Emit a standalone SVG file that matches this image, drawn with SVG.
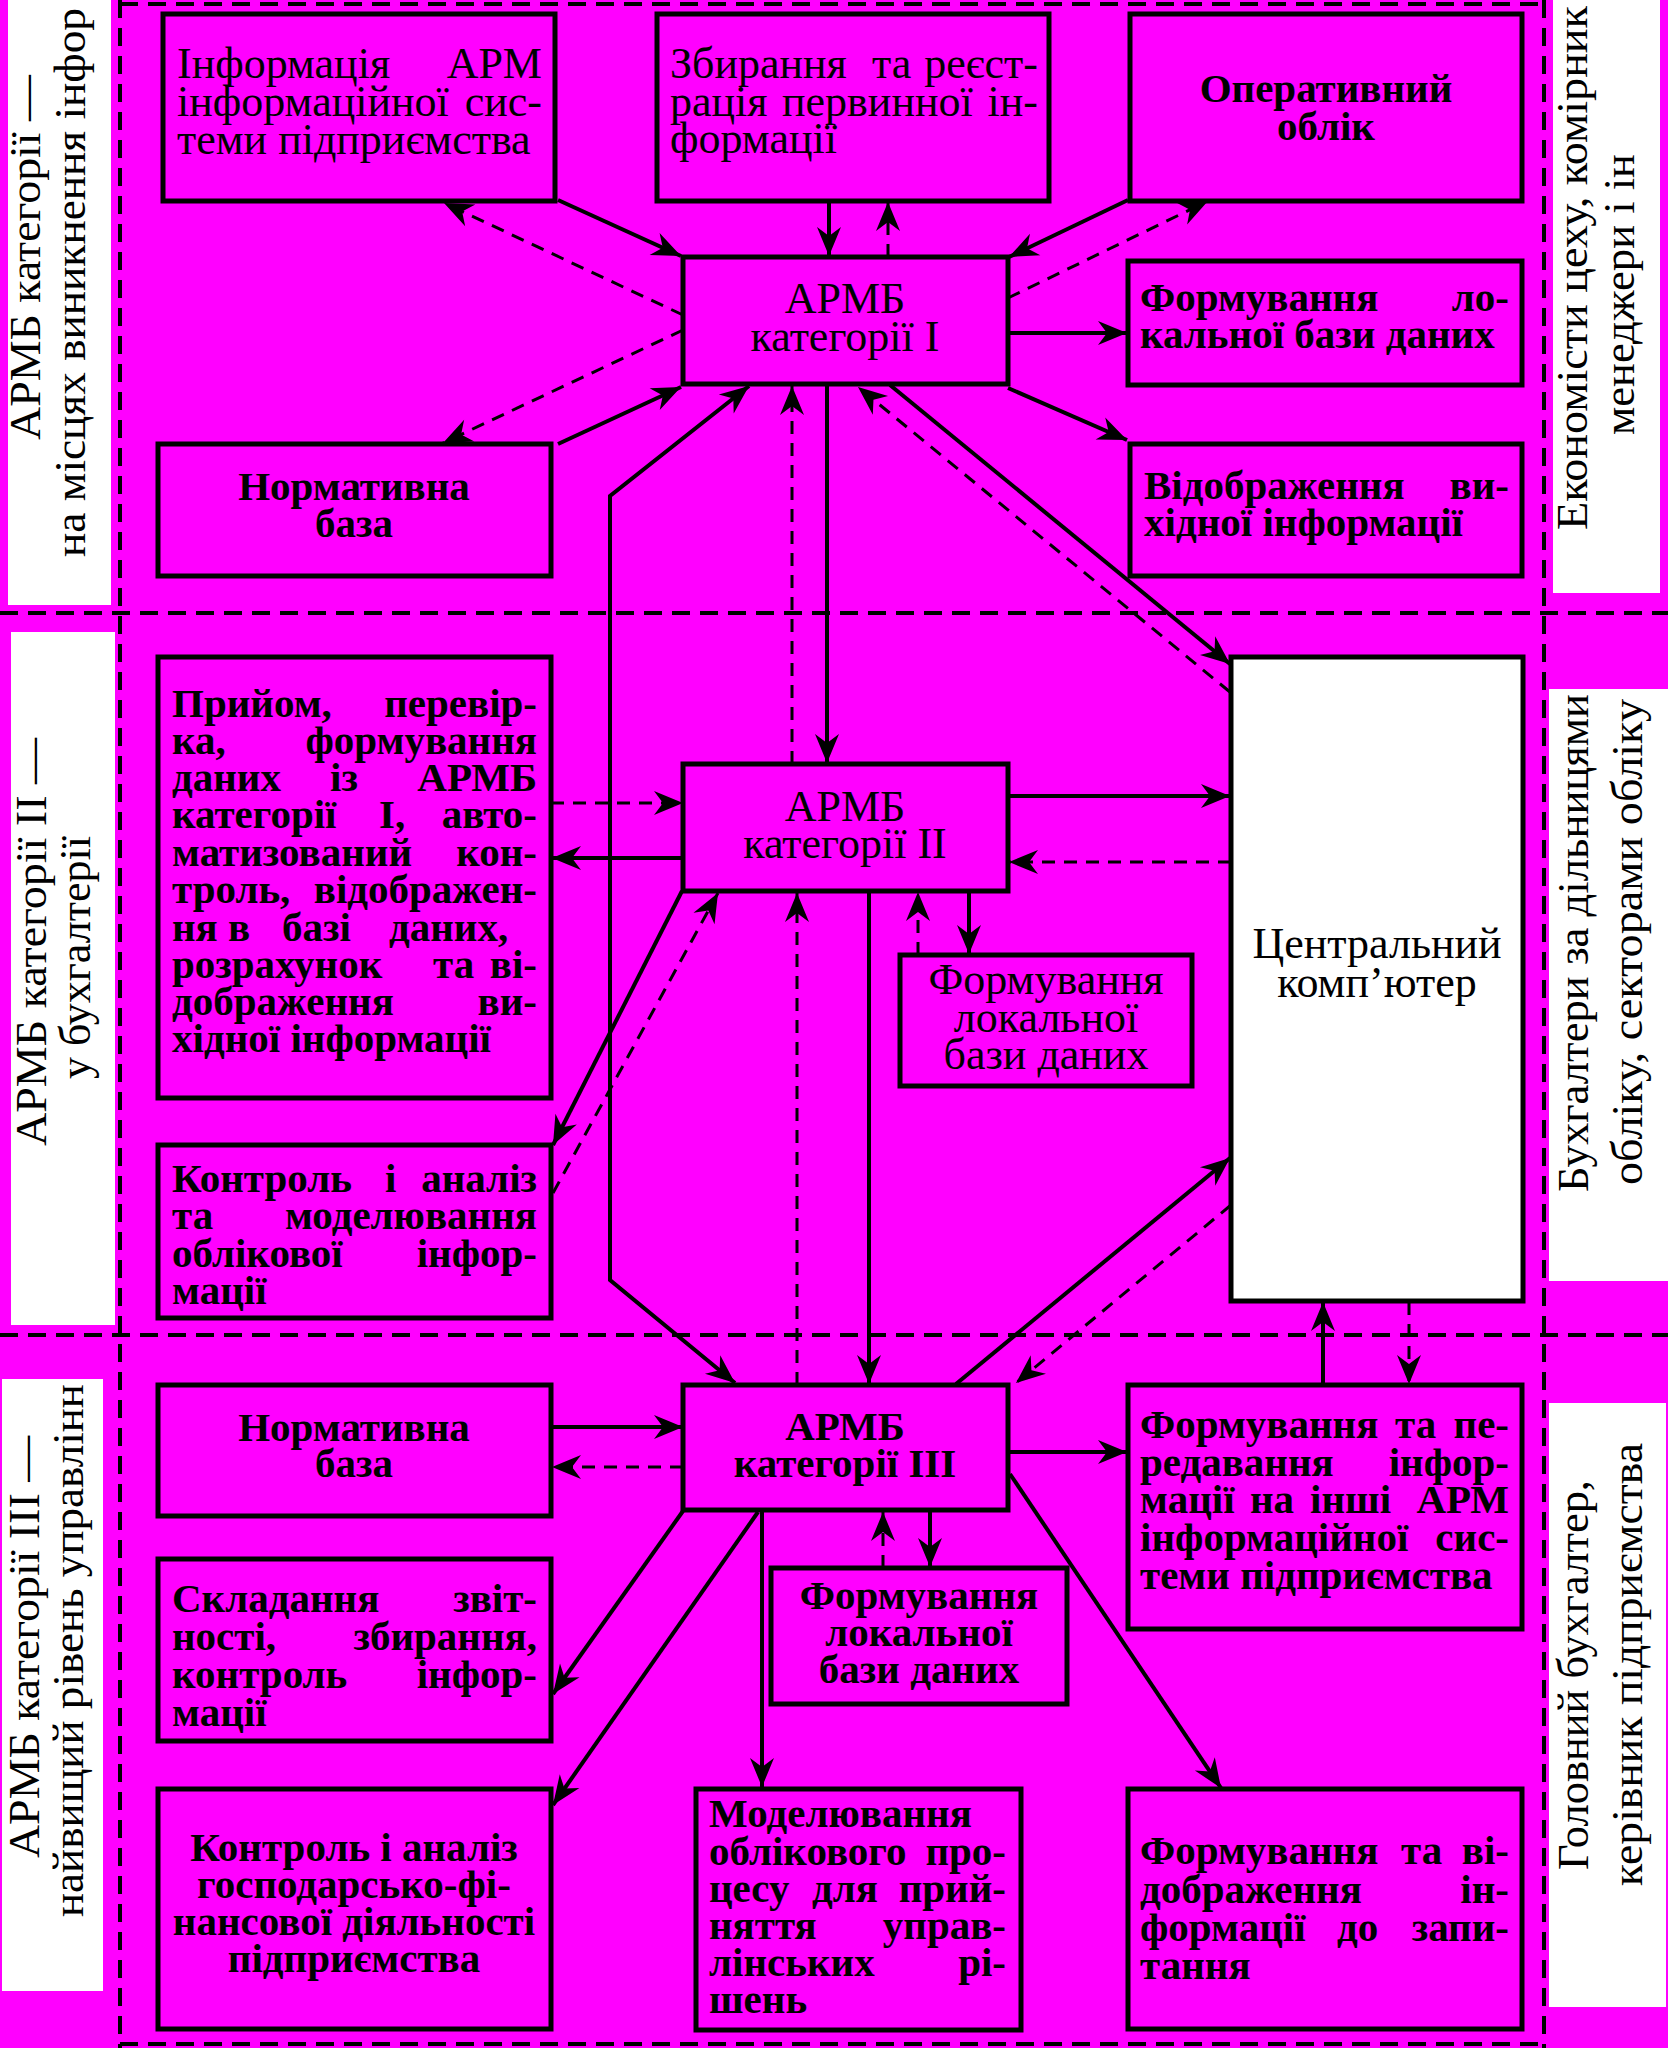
<svg xmlns="http://www.w3.org/2000/svg" width="1668" height="2048" viewBox="0 0 1668 2048">
<defs>
<style>
.box{fill:#FF00FF;stroke:#000;stroke-width:5}
.wbox{fill:#FFFFFF;stroke:#000;stroke-width:5}
.band{fill:#FFFFFF}
.div{stroke:#000;stroke-width:4;stroke-dasharray:18 10;fill:none}
.s{stroke:#000;stroke-width:4;fill:none;marker-end:url(#ah)}
.d{stroke:#000;stroke-width:3;fill:none;stroke-dasharray:13 9;marker-end:url(#ah)}
.sb{stroke:#000;stroke-width:4;fill:none;marker-end:url(#ah);marker-start:url(#ahs)}
text{font-family:"Liberation Serif","Times New Roman",serif;fill:#000}
.b{font-size:41px;font-weight:bold}
.n{font-size:44px;font-weight:normal}
.lab{font-size:45px}
.c{text-anchor:middle}
</style>
<marker id="ah" markerUnits="userSpaceOnUse" markerWidth="32" markerHeight="28" refX="29" refY="13" orient="auto" overflow="visible"><path d="M29,13 L0,1 L9,13 L0,25 Z" fill="#000"/></marker>
<marker id="ahs" markerUnits="userSpaceOnUse" markerWidth="32" markerHeight="28" refX="29" refY="13" orient="auto-start-reverse" overflow="visible"><path d="M29,13 L0,1 L9,13 L0,25 Z" fill="#000"/></marker>
</defs>

<rect x="0" y="0" width="1668" height="2048" fill="#FF00FF"/>

<g id="labels">
<rect class="band" x="8" y="0" width="103" height="605"/>
<rect class="band" x="11" y="632" width="104" height="693"/>
<rect class="band" x="2" y="1379" width="101" height="612"/>
<rect class="band" x="1553" y="0" width="107" height="593"/>
<rect class="band" x="1549" y="689" width="119" height="592"/>
<rect class="band" x="1549" y="1403" width="117" height="604"/>
<text class="lab" transform="translate(40,440) rotate(-90)" textLength="365" lengthAdjust="spacingAndGlyphs">АРМБ категорії —</text>
<text class="lab" transform="translate(85,557) rotate(-90)" textLength="549" lengthAdjust="spacingAndGlyphs">на місцях виникнення інфор</text>
<text class="lab" transform="translate(46,1146) rotate(-90)" textLength="408" lengthAdjust="spacingAndGlyphs">АРМБ категорії ІІ —</text>
<text class="lab" transform="translate(90,1079) rotate(-90)" textLength="243" lengthAdjust="spacingAndGlyphs">у бухгалтерії</text>
<text class="lab" transform="translate(39,1858) rotate(-90)" textLength="422" lengthAdjust="spacingAndGlyphs">АРМБ категорії ІІІ —</text>
<text class="lab" transform="translate(83,1917) rotate(-90)" textLength="533" lengthAdjust="spacingAndGlyphs">найвищий рівень управлінн</text>
<text class="lab" transform="translate(1587,530) rotate(-90)" textLength="524" lengthAdjust="spacingAndGlyphs">Економісти цеху, комірник</text>
<text class="lab" transform="translate(1634,435) rotate(-90)" textLength="281" lengthAdjust="spacingAndGlyphs">менеджери і ін</text>
<text class="lab" transform="translate(1588,1192) rotate(-90)" textLength="498" lengthAdjust="spacingAndGlyphs">Бухгалтери за дільницями</text>
<text class="lab" transform="translate(1642,1185) rotate(-90)" textLength="486" lengthAdjust="spacingAndGlyphs">обліку, секторами обліку</text>
<text class="lab" transform="translate(1588,1870) rotate(-90)" textLength="390" lengthAdjust="spacingAndGlyphs">Головний бухгалтер,</text>
<text class="lab" transform="translate(1642,1886) rotate(-90)" textLength="443" lengthAdjust="spacingAndGlyphs">керівник підприємства</text>
</g>

<g id="dividers">
<line class="div" x1="120" y1="0" x2="120" y2="2048"/>
<line class="div" x1="1544" y1="0" x2="1544" y2="2048"/>
<line class="div" x1="120" y1="4" x2="1544" y2="4"/>
<line class="div" x1="0" y1="613" x2="1668" y2="613"/>
<line class="div" x1="0" y1="1335" x2="1668" y2="1335"/>
<line class="div" x1="120" y1="2044" x2="1544" y2="2044"/>
</g>

<g id="connectors">
<line class="s" x1="558" y1="200" x2="681" y2="256"/>
<line class="d" x1="683" y1="315" x2="444" y2="203"/>
<line class="d" x1="683" y1="330" x2="443" y2="443"/>
<line class="s" x1="558" y1="444" x2="681" y2="387"/>
<line class="s" x1="829" y1="201" x2="829" y2="256"/>
<line class="d" x1="888" y1="257" x2="888" y2="202"/>
<line class="s" x1="1128" y1="200" x2="1009" y2="257"/>
<line class="d" x1="1008" y1="298" x2="1208" y2="201"/>
<line class="s" x1="1008" y1="333" x2="1127" y2="333"/>
<line class="s" x1="1008" y1="388" x2="1127" y2="440"/>
<path class="sb" d="M749,386 L610,496 L610,1280 L735,1383"/>
<line class="d" x1="792" y1="764" x2="792" y2="386"/>
<line class="s" x1="827" y1="385" x2="827" y2="763"/>
<line class="d" x1="1230" y1="692" x2="858" y2="387"/>
<line class="s" x1="890" y1="385" x2="1230" y2="664"/>
<line class="d" x1="551" y1="803" x2="683" y2="803"/>
<line class="s" x1="683" y1="858" x2="552" y2="858"/>
<line class="s" x1="682" y1="891" x2="553" y2="1145"/>
<line class="d" x1="553" y1="1193" x2="718" y2="893"/>
<line class="d" x1="797" y1="1385" x2="797" y2="893"/>
<line class="s" x1="869" y1="891" x2="869" y2="1384"/>
<line class="d" x1="918" y1="955" x2="918" y2="892"/>
<line class="s" x1="969" y1="891" x2="969" y2="954"/>
<line class="s" x1="1008" y1="796" x2="1230" y2="796"/>
<line class="d" x1="1231" y1="862" x2="1009" y2="862"/>
<line class="s" x1="956" y1="1384" x2="1230" y2="1158"/>
<line class="d" x1="1231" y1="1205" x2="1016" y2="1383"/>
<line class="s" x1="1323" y1="1385" x2="1323" y2="1302"/>
<line class="d" x1="1409" y1="1302" x2="1409" y2="1384"/>
<line class="s" x1="551" y1="1427" x2="683" y2="1427"/>
<line class="d" x1="683" y1="1467" x2="552" y2="1467"/>
<line class="s" x1="1008" y1="1452" x2="1127" y2="1452"/>
<line class="s" x1="683" y1="1511" x2="553" y2="1694"/>
<line class="s" x1="758" y1="1512" x2="553" y2="1805"/>
<line class="s" x1="762" y1="1511" x2="762" y2="1787"/>
<line class="d" x1="883" y1="1568" x2="883" y2="1512"/>
<line class="s" x1="930" y1="1511" x2="930" y2="1567"/>
<line class="s" x1="1010" y1="1474" x2="1221" y2="1788"/>
</g>

<g id="n1"><rect class="box" x="163" y="14" width="392" height="187"/>
<text class="n"><tspan x="177" y="78">Інформація</tspan><tspan x="542" y="78" text-anchor="end">АРМ</tspan><tspan x="177" y="116">інформаційної</tspan><tspan x="542" y="116" text-anchor="end">сис-</tspan><tspan x="177" y="154">теми підприємства</tspan></text></g>

<g id="n2"><rect class="box" x="657" y="14" width="392" height="187"/>
<text class="n"><tspan x="670" y="78">Збирання</tspan><tspan x="872" y="78">та</tspan><tspan x="1038" y="78" text-anchor="end">реєст-</tspan><tspan x="670" y="116">рація</tspan><tspan x="782" y="116">первинної</tspan><tspan x="1038" y="116" text-anchor="end">ін-</tspan><tspan x="670" y="153">формації</tspan></text></g>

<g id="n3"><rect class="box" x="1130" y="14" width="392" height="187"/>
<text class="b c"><tspan x="1326" y="102">Оперативний</tspan><tspan x="1326" y="140">облік</tspan></text></g>

<g id="n4"><rect class="box" x="683" y="257" width="325" height="127"/>
<text class="n c"><tspan x="845" y="313">АРМБ</tspan><tspan x="845" y="351">категорії I</tspan></text></g>

<g id="n5"><rect class="box" x="1128" y="261" width="394" height="124"/>
<text class="b"><tspan x="1140" y="311">Формування</tspan><tspan x="1509" y="311" text-anchor="end">ло-</tspan><tspan x="1140" y="348">кальної бази даних</tspan></text></g>

<g id="n6"><rect class="box" x="158" y="444" width="393" height="132"/>
<text class="b c"><tspan x="354" y="500">Нормативна</tspan><tspan x="354" y="537">база</tspan></text></g>

<g id="n7"><rect class="box" x="1130" y="444" width="392" height="132"/>
<text class="b"><tspan x="1144" y="499">Відображення</tspan><tspan x="1509" y="499" text-anchor="end">ви-</tspan><tspan x="1144" y="536">хідної інформації</tspan></text></g>

<g id="n8"><rect class="box" x="158" y="657" width="393" height="441"/>
<text class="b"><tspan x="172" y="717">Прийом,</tspan><tspan x="537" y="717" text-anchor="end">перевір-</tspan><tspan x="172" y="754">ка,</tspan><tspan x="537" y="754" text-anchor="end">формування</tspan><tspan x="172" y="791">даних</tspan><tspan x="330" y="791">із</tspan><tspan x="537" y="791" text-anchor="end">АРМБ</tspan><tspan x="172" y="828">категорії</tspan><tspan x="379" y="828">І,</tspan><tspan x="537" y="828" text-anchor="end">авто-</tspan><tspan x="172" y="866">матизований</tspan><tspan x="537" y="866" text-anchor="end">кон-</tspan><tspan x="172" y="903">троль,</tspan><tspan x="537" y="903" text-anchor="end">відображен-</tspan><tspan x="172" y="941">ня</tspan><tspan x="228" y="941">в</tspan><tspan x="282" y="941">базі</tspan><tspan x="389" y="941">даних,</tspan><tspan x="172" y="978">розрахунок</tspan><tspan x="433" y="978">та</tspan><tspan x="537" y="978" text-anchor="end">ві-</tspan><tspan x="172" y="1015">дображення</tspan><tspan x="537" y="1015" text-anchor="end">ви-</tspan><tspan x="172" y="1052">хідної інформації</tspan></text></g>

<g id="n9"><rect class="box" x="683" y="764" width="325" height="127"/>
<text class="n c"><tspan x="845" y="821">АРМБ</tspan><tspan x="845" y="858">категорії II</tspan></text></g>

<g id="n10"><rect class="box" x="900" y="955" width="292" height="131"/>
<text class="n c"><tspan x="1046" y="994">Формування</tspan><tspan x="1046" y="1032">локальної</tspan><tspan x="1046" y="1069">бази даних</tspan></text></g>

<g id="n11"><rect class="wbox" x="1231" y="657" width="292" height="644"/>
<text class="n c"><tspan x="1377" y="958">Центральний</tspan><tspan x="1377" y="997">комп’ютер</tspan></text></g>

<g id="n12"><rect class="box" x="158" y="1145" width="393" height="173"/>
<text class="b"><tspan x="172" y="1192">Контроль</tspan><tspan x="385" y="1192">і</tspan><tspan x="537" y="1192" text-anchor="end">аналіз</tspan><tspan x="172" y="1229">та</tspan><tspan x="537" y="1229" text-anchor="end">моделювання</tspan><tspan x="172" y="1267">облікової</tspan><tspan x="537" y="1267" text-anchor="end">інфор-</tspan><tspan x="172" y="1304">мації</tspan></text></g>

<g id="n13"><rect class="box" x="158" y="1385" width="393" height="131"/>
<text class="b c"><tspan x="354" y="1441">Нормативна</tspan><tspan x="354" y="1477">база</tspan></text></g>

<g id="n14"><rect class="box" x="683" y="1385" width="325" height="125"/>
<text class="b c"><tspan x="845" y="1440">АРМБ</tspan><tspan x="845" y="1477">категорії III</tspan></text></g>

<g id="n15"><rect class="box" x="1128" y="1385" width="394" height="244"/>
<text class="b"><tspan x="1140" y="1438">Формування</tspan><tspan x="1395" y="1438">та</tspan><tspan x="1509" y="1438" text-anchor="end">пе-</tspan><tspan x="1140" y="1476">редавання</tspan><tspan x="1509" y="1476" text-anchor="end">інфор-</tspan><tspan x="1140" y="1513">мації</tspan><tspan x="1250" y="1513">на</tspan><tspan x="1310" y="1513">інші</tspan><tspan x="1509" y="1513" text-anchor="end">АРМ</tspan><tspan x="1140" y="1551">інформаційної</tspan><tspan x="1509" y="1551" text-anchor="end">сис-</tspan><tspan x="1140" y="1589">теми підприємства</tspan></text></g>

<g id="n16"><rect class="box" x="158" y="1559" width="393" height="182"/>
<text class="b"><tspan x="172" y="1612">Складання</tspan><tspan x="537" y="1612" text-anchor="end">звіт-</tspan><tspan x="172" y="1650">ності,</tspan><tspan x="537" y="1650" text-anchor="end">збирання,</tspan><tspan x="172" y="1688">контроль</tspan><tspan x="537" y="1688" text-anchor="end">інфор-</tspan><tspan x="172" y="1726">мації</tspan></text></g>

<g id="n17"><rect class="box" x="771" y="1568" width="296" height="136"/>
<text class="b c"><tspan x="919" y="1609">Формування</tspan><tspan x="919" y="1646">локальної</tspan><tspan x="919" y="1683">бази даних</tspan></text></g>

<g id="n18"><rect class="box" x="158" y="1789" width="393" height="240"/>
<text class="b c"><tspan x="354" y="1861">Контроль і аналіз</tspan><tspan x="354" y="1898">господарсько-фі-</tspan><tspan x="354" y="1935">нансової діяльності</tspan><tspan x="354" y="1972">підприємства</tspan></text></g>

<g id="n19"><rect class="box" x="696" y="1789" width="325" height="241"/>
<text class="b"><tspan x="709" y="1827">Моделювання</tspan><tspan x="709" y="1865">облікового</tspan><tspan x="1006" y="1865" text-anchor="end">про-</tspan><tspan x="709" y="1902">цесу</tspan><tspan x="812" y="1902">для</tspan><tspan x="1006" y="1902" text-anchor="end">прий-</tspan><tspan x="709" y="1939">няття</tspan><tspan x="1006" y="1939" text-anchor="end">управ-</tspan><tspan x="709" y="1976">лінських</tspan><tspan x="1006" y="1976" text-anchor="end">рі-</tspan><tspan x="709" y="2013">шень</tspan></text></g>

<g id="n20"><rect class="box" x="1128" y="1789" width="394" height="240"/>
<text class="b"><tspan x="1140" y="1864">Формування</tspan><tspan x="1401" y="1864">та</tspan><tspan x="1509" y="1864" text-anchor="end">ві-</tspan><tspan x="1140" y="1903">дображення</tspan><tspan x="1509" y="1903" text-anchor="end">ін-</tspan><tspan x="1140" y="1941">формації</tspan><tspan x="1337" y="1941">до</tspan><tspan x="1509" y="1941" text-anchor="end">запи-</tspan><tspan x="1140" y="1979">тання</tspan></text></g>
</svg>
